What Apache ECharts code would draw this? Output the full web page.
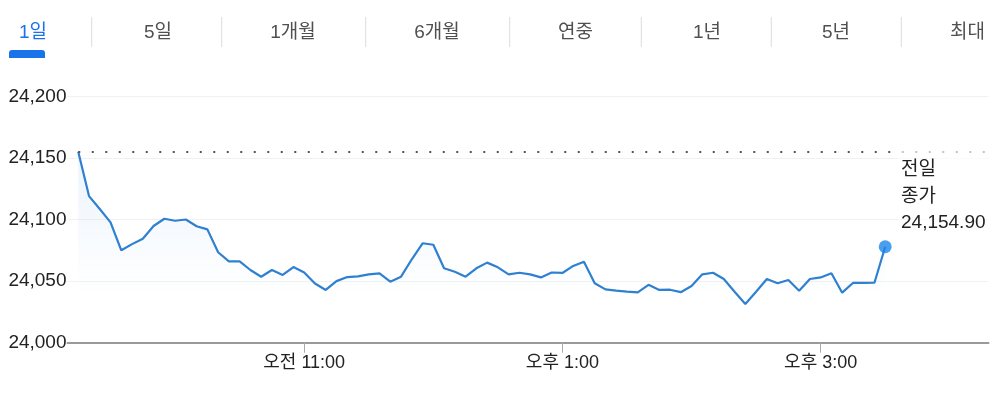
<!DOCTYPE html>
<html>
<head>
<meta charset="utf-8">
<script src="https://cdn.jsdelivr.net/npm/echarts@6/dist/echarts.min.js"></script>
<style>
html,body{margin:0;padding:0;background:#fff;}
#chart{width:1006px;height:405px;}
</style>
</head>
<body>
<div id="chart"></div>
<script>
// ---- data ----
var tabLabels = ['1일', '5일', '1개월', '6개월', '연중', '1년', '5년', '최대'];
var startTime = '09:15';       // first sample
var stepMinutes = 5;           // sampling step
var values = [24155, 24119, 24108.5, 24097.7, 24075, 24080, 24084.4, 24094.7, 24100.6, 24099,
  24100, 24094.5, 24092, 24073.4, 24066, 24066, 24059, 24053.5, 24059, 24055,
  24061.4, 24057, 24048, 24042.8, 24050, 24053.3, 24053.9, 24055.5, 24056.3, 24049.5,
  24053.6, 24067.7, 24080.7, 24079.5, 24060.4, 24057.6, 24053.6, 24060.4, 24065, 24061.2,
  24055.5, 24056.8, 24055.5, 24053, 24057, 24056.6, 24062.3, 24065.7, 24048.2, 24043.3,
  24042.2, 24041.4, 24040.9, 24047, 24042.8, 24043, 24041, 24046, 24055.5, 24056.8,
  24051.7, 24041.4, 24031.4, 24041.4, 24051.7, 24048.2, 24050.9, 24042.2, 24051.7, 24053,
  24056.3, 24040.6, 24048.5, 24048.5, 24048.7, 24077.9];
var prevClose = 24154.90;
var prevCloseLabel = ['전일', '종가', '24,154.90'];
var xTickTimes = ['11:00', '13:00', '15:00'];
var yTicks = [24000, 24050, 24100, 24150, 24200];
var xAxisStart = '09:10';
var xAxisEnd = '16:18';

function toMin(s){ var p = s.split(':'); return (+p[0]) * 60 + (+p[1]); }
function fmtTime(m){
  var h = Math.floor(m / 60), mm = m % 60;
  var ap = h < 12 ? '오전' : '오후';
  var h12 = h > 12 ? h - 12 : h;
  return ap + ' ' + h12 + ':' + (mm < 10 ? '0' : '') + mm;
}
function fmtNum(v){ return v.toLocaleString('en-US'); }

var t0 = toMin(startTime);
var lineData = values.map(function(v, i){ return [t0 + i * stepMinutes, v]; });
var last = lineData[lineData.length - 1];
var xMin = toMin(xAxisStart), xMax = toMin(xAxisEnd);
var tickVals = xTickTimes.map(toMin);

var LINE = '#2f80d0', DOT = '#1b86e8';
var TXT_FONT = '"Liberation Sans", Arial, "Noto Sans CJK KR", sans-serif';

// tabs
var tabCenters = [33, 158, 293, 437, 575.5, 707, 836, 967.5];
var sepX = [91.7, 221.7, 365.7, 509.7, 641.3, 771.3, 901.3];
var graphics = [];
tabLabels.forEach(function(t, i){
  graphics.push({
    type: 'text', x: tabCenters[i], y: 33, silent: true,
    style: { text: t, textAlign: 'center', textVerticalAlign: 'middle',
      font: '19px ' + TXT_FONT, fill: i === 0 ? '#1a73e8' : '#505050' }
  });
});
sepX.forEach(function(x){
  graphics.push({ type: 'line', silent: true,
    shape: { x1: x, y1: 17, x2: x, y2: 47 },
    style: { stroke: '#dcdcdc', lineWidth: 1 } });
});
graphics.push({ type: 'rect', silent: true,
  shape: { x: 9, y: 50, width: 36, height: 8, r: [3, 3, 0, 0] },
  style: { fill: '#1a73e8' } });
graphics.push({ type: 'text', x: 898, y: 148, silent: true, z: 100,
  style: { text: prevCloseLabel.join('\n'), font: '19px ' + TXT_FONT, fill: '#222',
    lineHeight: 26.5, backgroundColor: 'rgba(255,255,255,0.65)', padding: [9, 3, 4, 3] } });

var chart = echarts.init(document.getElementById('chart'));
chart.setOption({
  animation: false,
  graphic: graphics,
  grid: { left: 67.5, right: 17.5, top: 96.3, bottom: 62.3 },
  xAxis: {
    type: 'value', min: xMin, max: xMax,
    axisLine: { show: true, lineStyle: { color: '#9a9a9a', width: 2 } },
    axisTick: { show: true, customValues: tickVals, length: 10, lineStyle: { color: '#aaa', width: 1 } },
    axisLabel: { customValues: tickVals, formatter: function(v){ return fmtTime(v); },
      margin: 11, color: '#222', fontSize: 18, fontFamily: TXT_FONT },
    splitLine: { show: false }
  },
  yAxis: {
    type: 'value', min: yTicks[0], max: yTicks[yTicks.length - 1], interval: 50,
    axisLine: { show: false }, axisTick: { show: false },
    axisLabel: { formatter: function(v){ return fmtNum(v); }, margin: 1,
      color: '#222', fontSize: 19, fontFamily: TXT_FONT },
    splitLine: { show: true, lineStyle: { color: '#f1f1f1', width: 1 } }
  },
  series: [
    {
      type: 'line', data: lineData, showSymbol: false, symbol: 'none',
      lineStyle: { color: LINE, width: 2.2 },
      areaStyle: {
        color: { type: 'linear', x: 0, y: 0, x2: 0, y2: 1,
          colorStops: [
            { offset: 0, color: 'rgba(40,130,230,0.13)' },
            { offset: 0.75, color: 'rgba(40,130,230,0)' },
            { offset: 1, color: 'rgba(40,130,230,0)' }
          ] }
      },
      markLine: {
        silent: true, symbol: 'none', label: { show: false },
        lineStyle: { color: '#555', width: 2, type: [2, 11.5] },
        data: [[{ coord: [lineData[0][0], prevClose] }, { coord: [xMax, prevClose] }]]
      },
      z: 3
    },
    {
      type: 'scatter', data: [last], symbol: 'circle', symbolSize: 13,
      itemStyle: { color: DOT }, z: 5, silent: true
    }
  ]
});
</script>
</body>
</html>
